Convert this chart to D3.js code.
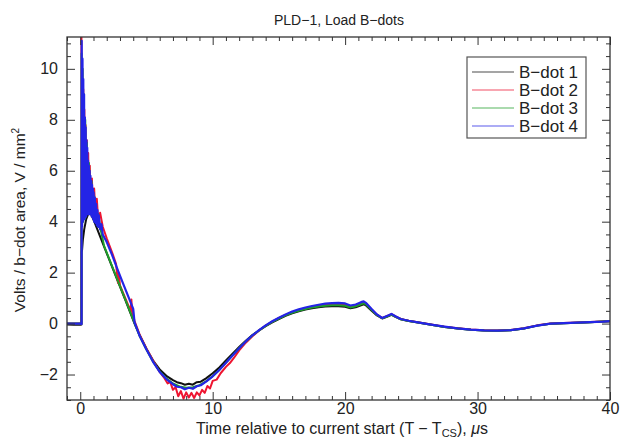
<!DOCTYPE html>
<html>
<head>
<meta charset="utf-8">
<script src="https://cdn.jsdelivr.net/npm/d3@7"></script>
<style>
  html, body { margin: 0; padding: 0; background: #fff; }
  svg { display: block; font-family: "Liberation Sans", Arial, Helvetica, sans-serif; }
  .axis path { display: none; }
  .axis line { stroke: #333; stroke-width: 1; }
  .axis text { font-size: 16px; fill: #222; font-family: "Liberation Sans", Arial, Helvetica, sans-serif; }
</style>
</head>
<body>
<svg id="chart" width="622" height="439"></svg>
<script>
// ---- data: time (µs) / signal (V per mm² of b-dot area) ----
const seriesNames = ["B\u2212dot 1", "B\u2212dot 2", "B\u2212dot 3", "B\u2212dot 4"];
const seriesColors = ["#111111", "#ee1530", "#1e9e2a", "#2424e6"];

const bdot1 = [
  [-1.0,-0.04],[-0.5,-0.05],[0.0,-0.05],[0.09,-0.04],[0.1,2.8],[0.14,2.9],[0.2,3.3],[0.3,3.7],
  [0.45,4.1],[0.6,4.3],[0.75,4.35],[0.9,4.2],[1.1,3.95],[1.4,3.55],[1.8,3.02],[2.2,2.5],
  [2.6,1.97],[3.0,1.45],[3.4,0.93],[3.8,0.4],[4.1,0.0],[4.5,-0.48],[5.0,-1.0],[5.5,-1.45],
  [6.0,-1.8],[6.5,-2.05],[7.0,-2.22],[7.3,-2.3],[7.6,-2.34],[7.9,-2.4],[8.2,-2.36],[8.5,-2.4],
  [8.8,-2.3],[9.1,-2.28],[9.5,-2.15],[10.0,-1.95],[10.5,-1.72],[11.0,-1.45],[11.5,-1.18],
  [12.0,-0.92],[12.5,-0.67],[13.0,-0.45],[13.5,-0.27],[14.0,-0.1],[14.5,0.05],[15.0,0.18],
  [15.5,0.3],[16.0,0.4],[16.5,0.48],[17.0,0.55],[17.5,0.6],[18.0,0.64],[18.5,0.67],[19.0,0.68],
  [19.5,0.68],[20.0,0.66],[20.4,0.6],[20.8,0.64],[21.2,0.72],[21.4,0.76],[21.6,0.7],[22.0,0.5],
  [22.4,0.32],[22.8,0.2],[23.2,0.28],[23.5,0.34],[23.8,0.26],[24.2,0.17],[24.8,0.1],[25.5,0.04],
  [26.5,-0.05],[27.5,-0.13],[28.5,-0.19],[29.5,-0.24],[30.5,-0.27],[31.5,-0.28],[32.5,-0.26],
  [33.5,-0.19],[34.5,-0.08],[35.5,-0.01],[36.5,0.01],[37.5,0.03],[38.5,0.05],[39.5,0.08],[40.0,0.09]
];

const bdot2 = [
  [-1.0,0.0],[0.0,0.0],[0.08,0.0],[0.09,11.6],[0.12,4.2],[0.15,10.0],[0.19,4.4],[0.23,9.2],
  [0.27,4.5],[0.31,8.4],[0.35,4.6],[0.4,7.8],[0.45,4.6],[0.5,7.2],[0.55,4.6],[0.6,6.7],
  [0.66,4.5],[0.72,6.2],[0.8,4.5],[0.88,5.7],[0.96,4.4],[1.05,5.3],[1.15,4.3],[1.25,4.9],
  [1.35,4.1],[1.5,4.35],[1.7,3.8],[2.0,3.35],[2.4,2.8],[2.7,2.35],[2.78,1.95],[2.85,1.6],
  [2.92,1.95],[3.0,1.5],[3.4,1.0],[3.8,0.5],[3.86,0.95],[3.92,0.45],[4.1,0.1],[4.5,-0.45],
  [5.0,-0.98],[5.5,-1.45],[6.0,-1.9],[6.3,-2.1],[6.6,-2.35],[6.8,-2.3],[7.0,-2.6],[7.2,-2.5],
  [7.4,-2.85],[7.6,-2.65],[7.8,-2.95],[8.0,-2.7],[8.2,-2.9],[8.4,-2.72],[8.6,-2.92],[8.8,-2.7],
  [9.0,-2.82],[9.2,-2.6],[9.4,-2.72],[9.6,-2.45],[9.8,-2.55],[10.0,-2.25],[10.3,-2.2],
  [10.6,-1.95],[11.0,-1.7],[11.3,-1.55],[11.6,-1.35],[12.0,-1.05],[12.5,-0.75],[13.0,-0.5],
  [13.5,-0.27],[14.0,-0.08],[14.5,0.08],[15.0,0.22],[15.5,0.34],[16.0,0.45],[16.5,0.53],
  [17.0,0.6],[17.5,0.66],[18.0,0.71],[18.5,0.74],[19.0,0.76],[19.5,0.77],[20.0,0.75],
  [20.4,0.67],[20.8,0.72],[21.2,0.8],[21.4,0.84],[21.6,0.77],[22.0,0.55],[22.4,0.35],
  [22.8,0.22],[23.2,0.3],[23.5,0.37],[23.8,0.28],[24.2,0.18],[24.8,0.11],[25.5,0.05],
  [26.5,-0.04],[27.5,-0.12],[28.5,-0.18],[29.5,-0.23],[30.5,-0.26],[31.5,-0.27],[32.5,-0.25],
  [33.5,-0.18],[34.5,-0.07],[35.5,0.0],[36.5,0.02],[37.5,0.04],[38.5,0.06],[39.5,0.08],[40.0,0.09]
];

const bdot3 = [
  [-1.0,0.0],[0.0,0.0],[0.09,0.0],[0.1,10.6],[0.14,3.9],[0.18,10.0],[0.22,4.0],[0.27,9.0],
  [0.32,4.1],[0.38,8.0],[0.44,4.2],[0.5,7.1],[0.58,4.3],[0.66,6.3],[0.75,4.3],[0.85,5.6],
  [0.95,4.2],[1.05,5.0],[1.2,4.0],[1.35,4.3],[1.5,3.8],[1.8,3.05],[2.2,2.52],[2.6,2.0],
  [3.0,1.47],[3.4,0.95],[3.8,0.42],[4.1,0.02],[4.5,-0.5],[5.0,-1.02],[5.5,-1.5],[6.0,-1.88],
  [6.5,-2.15],[7.0,-2.35],[7.5,-2.47],[8.0,-2.52],[8.5,-2.5],[9.0,-2.42],[9.5,-2.27],
  [10.0,-2.07],[10.5,-1.82],[11.0,-1.54],[11.5,-1.25],[12.0,-0.97],[12.5,-0.7],[13.0,-0.47],
  [13.5,-0.27],[14.0,-0.09],[14.5,0.07],[15.0,0.2],[15.5,0.32],[16.0,0.42],[16.5,0.5],
  [17.0,0.57],[17.5,0.63],[18.0,0.67],[18.5,0.7],[19.0,0.72],[19.5,0.72],[20.0,0.7],
  [20.4,0.63],[20.8,0.68],[21.2,0.76],[21.4,0.8],[21.6,0.74],[22.0,0.53],[22.4,0.34],
  [22.8,0.21],[23.2,0.29],[23.5,0.35],[23.8,0.27],[24.2,0.17],[24.8,0.1],[25.5,0.04],
  [26.5,-0.05],[27.5,-0.13],[28.5,-0.19],[29.5,-0.24],[30.5,-0.27],[31.5,-0.28],[32.5,-0.26],
  [33.5,-0.19],[34.5,-0.08],[35.5,-0.01],[36.5,0.01],[37.5,0.03],[38.5,0.05],[39.5,0.08],[40.0,0.09]
];

const bdot4 = [
  [-1.0,0.0],[0.0,0.0],[0.1,-0.02],[0.11,11.1],[0.14,3.8],[0.17,10.4],[0.2,4.0],[0.23,9.6],
  [0.26,4.1],[0.29,9.0],[0.32,4.1],[0.35,8.1],[0.38,4.2],[0.41,7.7],[0.44,4.2],[0.47,7.2],
  [0.5,4.3],[0.53,6.9],[0.56,4.3],[0.59,6.4],[0.62,4.3],[0.65,6.2],[0.68,4.3],[0.71,6.0],
  [0.74,4.3],[0.77,5.8],[0.8,4.3],[0.83,5.6],[0.86,4.2],[0.89,5.45],[0.92,4.2],[0.95,5.3],
  [0.98,4.1],[1.01,5.15],[1.05,4.0],[1.1,4.95],[1.15,3.95],[1.2,4.7],[1.25,3.85],[1.3,4.45],
  [1.35,3.8],[1.4,4.25],[1.5,3.7],[1.6,3.9],[1.7,3.5],[2.0,3.2],[2.4,2.7],[2.8,2.15],
  [3.2,1.62],[3.6,1.1],[4.0,0.58],[4.1,0.05],[4.5,-0.5],[5.0,-1.02],[5.5,-1.5],[6.0,-1.9],
  [6.5,-2.18],[7.0,-2.38],[7.3,-2.48],[7.6,-2.5],[7.9,-2.58],[8.2,-2.52],[8.5,-2.56],
  [8.8,-2.46],[9.1,-2.42],[9.5,-2.28],[10.0,-2.07],[10.5,-1.82],[11.0,-1.54],[11.5,-1.25],
  [12.0,-0.97],[12.5,-0.7],[13.0,-0.46],[13.5,-0.26],[14.0,-0.07],[14.5,0.09],[15.0,0.23],
  [15.5,0.36],[16.0,0.47],[16.5,0.56],[17.0,0.63],[17.5,0.69],[18.0,0.74],[18.5,0.78],
  [19.0,0.8],[19.5,0.81],[20.0,0.79],[20.4,0.71],[20.8,0.75],[21.2,0.84],[21.4,0.87],
  [21.6,0.8],[22.0,0.57],[22.4,0.36],[22.8,0.22],[23.2,0.31],[23.5,0.38],[23.8,0.29],
  [24.2,0.18],[24.8,0.11],[25.5,0.05],[26.5,-0.04],[27.5,-0.12],[28.5,-0.19],[29.5,-0.24],
  [30.5,-0.27],[31.5,-0.28],[32.5,-0.26],[33.5,-0.19],[34.5,-0.08],[35.5,0.0],[36.5,0.02],
  [37.5,0.04],[38.5,0.06],[39.5,0.08],[40.0,0.1]
];

const xMajorTicks = [0, 10, 20, 30, 40];
const yMajorTicks = [-2, 0, 2, 4, 6, 8, 10];

// ---- layout ----
const svg = d3.select("#chart");
const plot = { left: 67, right: 610, top: 37, bottom: 400 };

const x = d3.scaleLinear().domain([-1, 40]).range([plot.left, plot.right]);
const y = d3.scaleLinear().domain([-3, 11.25]).range([plot.bottom, plot.top]);

const xMinor = d3.range(-1, 41, 1).filter(v => !xMajorTicks.includes(v));
const yMinor = d3.range(-3, 11.01, 0.5).filter(v => !yMajorTicks.includes(v));

svg.append("clipPath").attr("id", "plot-clip")
  .append("rect")
  .attr("x", plot.left).attr("y", plot.top)
  .attr("width", plot.right - plot.left).attr("height", plot.bottom - plot.top);

// traces
const line = d3.line().x(d => x(d[0])).y(d => y(d[1]));
const traces = [bdot1, bdot2, bdot3, bdot4];
const widths = [2.0, 2.0, 2.0, 2.2];
const traceG = svg.append("g").attr("clip-path", "url(#plot-clip)");
traces.forEach((data, i) => {
  traceG.append("path")
    .datum(data)
    .attr("d", line)
    .attr("fill", "none")
    .attr("stroke", seriesColors[i])
    .attr("stroke-width", widths[i])
    .attr("stroke-linejoin", "round");
});

// axes: inward ticks on all four sides
const H = plot.bottom - plot.top, W = plot.right - plot.left;
svg.append("g").attr("class", "axis")
  .attr("transform", `translate(0,${plot.bottom})`)
  .call(d3.axisBottom(x).tickValues(xMajorTicks).tickSize(-8).tickPadding(3).tickFormat(d3.format("d")));
svg.append("g").attr("class", "axis")
  .attr("transform", `translate(0,${plot.bottom})`)
  .call(d3.axisBottom(x).tickValues(xMinor).tickSize(-4).tickFormat(""));
svg.append("g").attr("class", "axis")
  .attr("transform", `translate(0,${plot.top})`)
  .call(d3.axisTop(x).tickValues(xMajorTicks).tickSize(-8).tickFormat(""));
svg.append("g").attr("class", "axis")
  .attr("transform", `translate(0,${plot.top})`)
  .call(d3.axisTop(x).tickValues(xMinor).tickSize(-4).tickFormat(""));

svg.append("g").attr("class", "axis")
  .attr("transform", `translate(${plot.left},0)`)
  .call(d3.axisLeft(y).tickValues(yMajorTicks).tickSize(-8).tickPadding(9)
    .tickFormat(d => d < 0 ? "\u2212" + Math.abs(d) : String(d)));
svg.append("g").attr("class", "axis")
  .attr("transform", `translate(${plot.left},0)`)
  .call(d3.axisLeft(y).tickValues(yMinor).tickSize(-4).tickFormat(""));
svg.append("g").attr("class", "axis")
  .attr("transform", `translate(${plot.right},0)`)
  .call(d3.axisRight(y).tickValues(yMajorTicks).tickSize(-8).tickFormat(""));
svg.append("g").attr("class", "axis")
  .attr("transform", `translate(${plot.right},0)`)
  .call(d3.axisRight(y).tickValues(yMinor).tickSize(-4).tickFormat(""));

// frame
svg.append("rect")
  .attr("x", plot.left).attr("y", plot.top).attr("width", W).attr("height", H)
  .attr("fill", "none").attr("stroke", "#333").attr("stroke-width", 1.3);

// title
svg.append("text")
  .attr("x", 339).attr("y", 25)
  .attr("text-anchor", "middle")
  .attr("font-size", 14).attr("fill", "#222")
  .text("PLD\u22121, Load B\u2212dots");

// x label with subscript
const xl = svg.append("text")
  .attr("x", 342).attr("y", 434)
  .attr("text-anchor", "middle")
  .attr("font-size", 16).attr("fill", "#222");
xl.append("tspan").text("Time relative to current start (T \u2212 T");
xl.append("tspan").attr("font-size", 11).attr("dy", 3).text("CS");
xl.append("tspan").attr("dy", -3).text("), ");
xl.append("tspan").attr("font-style", "italic").text("\u03bc");
xl.append("tspan").text("s");

// y label
const yl = svg.append("text")
  .attr("transform", "translate(25,220) rotate(-90)")
  .attr("text-anchor", "middle")
  .attr("font-size", 15.5).attr("fill", "#222");
yl.append("tspan").text("Volts / b\u2212dot area, V / mm");
yl.append("tspan").attr("font-size", 10).attr("dy", -6).text("2");

// legend
const legend = svg.append("g");
legend.append("rect")
  .attr("x", 467).attr("y", 57).attr("width", 119).attr("height", 81)
  .attr("fill", "#fff").attr("stroke", "#555").attr("stroke-width", 1.2);
seriesNames.forEach((name, i) => {
  const ly = 72 + i * 18;
  legend.append("line")
    .attr("x1", 472).attr("x2", 514).attr("y1", ly).attr("y2", ly)
    .attr("stroke", seriesColors[i]).attr("stroke-width", 1.1).attr("opacity", 0.75);
  legend.append("text")
    .attr("x", 519).attr("y", ly + 6)
    .attr("font-size", 17).attr("fill", "#222")
    .text(name);
});
</script>
</body>
</html>
